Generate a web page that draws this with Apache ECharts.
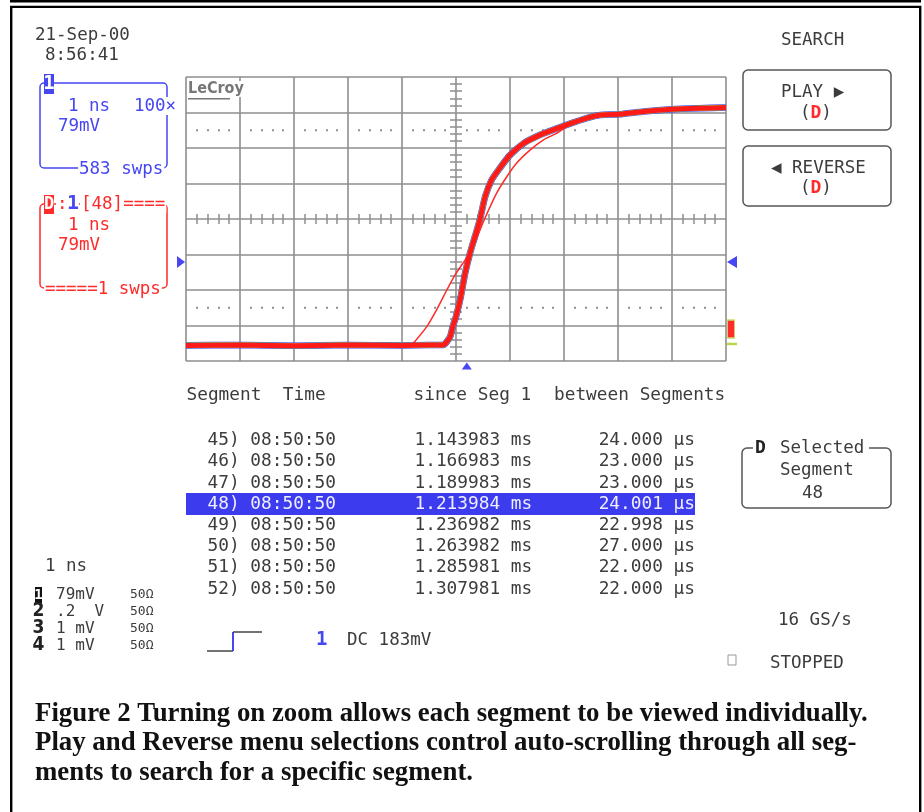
<!DOCTYPE html>
<html>
<head>
<meta charset="utf-8">
<script src="https://cdn.jsdelivr.net/npm/echarts@6/dist/echarts.min.js"></script>
<style>
html, body { margin: 0; padding: 0; background: #fff; }
#chart { width: 924px; height: 812px; }
</style>
</head>
<body>
<div id="chart"></div>
<script>
// trace values, x in divisions from centre, y in divisions from centre
const mainX = [-5, -4, -3, -2, -1, -0.5, -0.24, -0.11, -0.06, 0.0, 0.08, 0.17, 0.26, 0.35, 0.44, 0.54, 0.66, 0.81, 1.0, 1.25, 1.56, 1.8, 2.05, 2.42, 2.67, 3.02, 3.48, 4.0, 4.5, 5]
const mainY = [-3.56, -3.55, -3.57, -3.55, -3.56, -3.55, -3.55, -3.32, -3.03, -2.75, -2.25, -1.52, -0.96, -0.5, -0.03, 0.63, 1.1, 1.43, 1.8, 2.13, 2.37, 2.51, 2.65, 2.84, 2.93, 2.95, 3.03, 3.09, 3.12, 3.14]
const thinX = [-0.79, -0.54, -0.36, -0.17, -0.02, 0.17, 0.29, 0.51, 0.75, 0.94, 1.12, 1.37, 1.62, 1.86, 2.05]
const thinY = [-3.5, -3.03, -2.56, -2.0, -1.58, -1.15, -0.87, -0.07, 0.72, 1.19, 1.57, 1.94, 2.23, 2.41, 2.6]
const trigLevel = -1.21
const trigPos = 0.2

// segment table
const segNums = ["45", "46", "47", "48", "49", "50", "51", "52"]
const segTimes = ["08:50:50", "08:50:50", "08:50:50", "08:50:50", "08:50:50", "08:50:50", "08:50:50", "08:50:50"]
const sinceSeg1 = ["1.143983 ms", "1.166983 ms", "1.189983 ms", "1.213984 ms", "1.236982 ms", "1.263982 ms", "1.285981 ms", "1.307981 ms"]
const betweenSeg = ["24.000 μs", "23.000 μs", "23.000 μs", "24.001 μs", "22.998 μs", "27.000 μs", "22.000 μs", "22.000 μs"]
const selectedSeg = "48"

// channel list
const chNames = ["1", "2", "3", "4"]
const chScales = ["79mV", ".2  V", "1 mV", "1 mV"]
const chImp = ["50Ω", "50Ω", "50Ω", "50Ω"]

const caption = [
    "Figure 2 Turning on zoom allows each segment to be viewed individually.",
    "Play and Reverse menu selections control auto-scrolling through all seg-",
    "ments to search for a specific segment.",
]

const mono = '"DejaVu Sans Mono", monospace'
const gray = "#3c3c3c"
const blue = "#4646f2"
const red = "#ff2a2a"
const gridColor = "#8e8e8e"

function txt(x, y, text, size, color, extra) {
    return {
        type: "text",
        x: x,
        y: y,
        z: 100,
        style: Object.assign(
            { text: text, font: size + "px " + mono, fill: color, align: "left", verticalAlign: "middle" },
            extra || {}
        ),
    }
}

function box(x, y, w, h, r, stroke, lw) {
    return {
        type: "rect",
        z: 90,
        shape: { x: x, y: y, width: w, height: h, r: r },
        style: { fill: "none", stroke: stroke, lineWidth: lw },
    }
}

function fillRect(x, y, w, h, color, z) {
    return { type: "rect", z: z || 95, shape: { x: x, y: y, width: w, height: h }, style: { fill: color } }
}

function line(points, color, lw) {
    return { type: "polyline", z: 95, shape: { points: points }, style: { stroke: color, lineWidth: lw, fill: "none" } }
}

const whiteBg = { backgroundColor: "#fff", padding: [0, 1] }

const graphics = [
    // page frame
    fillRect(10, 0, 911, 2.5, "#000"),
    box(11.2, 6.9, 909, 830, 0, "#000", 2.4),

    txt(35, 35, "21-Sep-00", 17.5, gray),
    txt(45, 55, "8:56:41", 17.5, gray),

    // channel 1 box
    box(40, 83, 127, 85, 4, blue, 1.5),
    fillRect(44, 74, 10, 20, blue),
    txt(49, 84.5, "1", 19, "#fff", { font: "bold 19px " + mono, align: "center" }),
    txt(68, 106, "1 ns", 17.5, blue),
    txt(133, 106, "100×", 17.5, blue, whiteBg),
    txt(58, 126, "79mV", 17.5, blue),
    txt(78, 169, "583 swps", 17.5, blue, whiteBg),

    // trace D box
    box(40, 204, 127, 84, 4, red, 1.5),
    fillRect(44, 195, 10, 19, red),
    txt(49, 204.5, "D", 17, "#fff", { font: "bold 17px " + mono, align: "center" }),
    txt(56, 204, ":", 17.5, red, whiteBg),
    txt(67, 204, "1", 20, blue, { font: "bold 20px " + mono, backgroundColor: "#fff" }),
    txt(80, 204, "[48]====", 17.5, red, whiteBg),
    txt(68, 225, "1 ns", 17.5, red),
    txt(58, 245, "79mV", 17.5, red),
    txt(44, 289, "=====1 swps", 17.5, red, whiteBg),

    // LeCroy logo
    txt(188, 89, "LeCroy", 16, "#777", { font: "bold 16px 'DejaVu Sans Condensed', sans-serif", backgroundColor: "#fff" }),
    fillRect(188, 98, 42, 1.6, "#777"),

    // right menu
    txt(781, 40, "SEARCH", 17.5, gray),
    box(743, 70, 148, 60, 5, "#555", 1.5),
    txt(781, 92, "PLAY ▶", 17.5, gray),
    txt(800, 113, "({d|D})", 17.5, gray, { rich: { d: { fill: red, font: "bold 18px " + mono } } }),
    box(743, 146, 148, 60, 5, "#555", 1.5),
    txt(771, 168, "◀ REVERSE", 17.5, gray),
    txt(800, 188, "({d|D})", 17.5, gray, { rich: { d: { fill: red, font: "bold 18px " + mono } } }),

    box(742, 448, 149, 60, 5, "#555", 1.5),
    fillRect(753, 442, 116, 10, "#fff", 96),
    txt(755, 448, "D", 18, "#222", { font: "bold 18px " + mono }),
    txt(780, 448, "Selected", 17.5, gray),
    txt(780, 470, "Segment", 17.5, gray),
    txt(802, 493, selectedSeg, 17.5, gray),

    txt(778, 620, "16 GS/s", 17.5, gray),
    box(728, 655, 8, 10, 0, "#999", 1),
    txt(770, 663, "STOPPED", 17.5, gray),

    // bottom left
    txt(45, 566, "1 ns", 17.5, gray),

    // trigger icon
    line([[207, 651], [233, 651]], "#444", 1.5),
    line([[233, 651], [233, 632]], blue, 2),
    line([[233, 632], [262, 632]], "#444", 1.5),
    txt(316, 640, "1", 19, blue, { font: "bold 19px " + mono }),
    txt(347, 640, "DC 183mV", 17.5, gray),

    // table header
    txt(186.5, 395, "Segment  Time", 17.8, gray),
    txt(413.5, 395, "since Seg 1", 17.8, gray),
    txt(554, 395, "between Segments", 17.8, gray),
]

// channel rows
const chRowY = [595, 611.5, 628.5, 645.5]
chNames.forEach((name, i) => {
    const y = chRowY[i]
    if (i === 0) {
        graphics.push(fillRect(35, y - 8, 7, 16, "#111"))
        graphics.push(txt(38.5, y, name, 14, "#fff", { font: "bold 14px " + mono, align: "center" }))
    } else {
        graphics.push(txt(38.5, y, name, 19, "#222", { font: "bold 19px 'DejaVu Sans Condensed', sans-serif", align: "center" }))
    }
    graphics.push(txt(56, y, chScales[i], 16, gray))
    graphics.push(txt(130, y, chImp[i], 13, gray))
})

// segment rows
segNums.forEach((seg, i) => {
    const y = 440.5 + i * 21.2
    const sel = seg === selectedSeg
    const color = sel ? "#eeeeff" : gray
    if (sel) graphics.push(fillRect(186, y - 11, 509, 22, "#3c3cee", 94))
    graphics.push(txt(207.5, y, seg + ") " + segTimes[i], 17.8, color))
    graphics.push(txt(414.5, y, sinceSeg1[i], 17.8, color))
    graphics.push(txt(695, y, betweenSeg[i], 17.8, color, { align: "right" }))
})

// caption
caption.forEach((s, i) => {
    graphics.push({
        type: "text",
        x: 35,
        y: 714 + i * 29.5,
        scaleX: 0.993,
        z: 100,
        style: { text: s, font: "bold 27px 'Liberation Serif', serif", fill: "#111", align: "left", verticalAlign: "middle" },
    })
})

function stripAxis(gridIndex, min, max, width) {
    return {
        type: "value",
        gridIndex: gridIndex,
        min: min,
        max: max,
        interval: 1,
        axisLine: { show: false },
        axisTick: { show: false },
        axisLabel: { show: false },
        splitLine: { show: false },
        minorTick: { splitNumber: 5 },
        minorSplitLine: { show: true, lineStyle: { color: gridColor, width: width } },
    }
}

function hidden(gridIndex) {
    return { type: "value", gridIndex: gridIndex, min: 0, max: 1, show: false }
}

const mainAxisBase = {
    type: "value",
    gridIndex: 0,
    interval: 1,
    axisLine: { show: false },
    axisTick: { show: false },
    axisLabel: { show: false },
    splitLine: { show: true, lineStyle: { color: gridColor, width: 1.6 } },
}

const mainData = mainX.map((x, i) => [x, mainY[i]])
const thinData = thinX.map((x, i) => [x, thinY[i]])

const option = {
    animation: false,
    graphic: graphics,
    grid: [
        { left: 186, top: 77, width: 540, height: 284 },
        { left: 186, top: 214, width: 540, height: 10 },
        { left: 450, top: 77, width: 12, height: 284 },
        { left: 186, top: 129.3, width: 540, height: 2 },
        { left: 186, top: 306.8, width: 540, height: 2 },
    ],
    xAxis: [
        Object.assign({}, mainAxisBase, { min: -5, max: 5 }),
        stripAxis(1, -5, 5, 1.5),
        hidden(2),
        stripAxis(3, -5, 5, 2),
        stripAxis(4, -5, 5, 2),
    ],
    yAxis: [
        Object.assign({}, mainAxisBase, { min: -4, max: 4 }),
        hidden(1),
        stripAxis(2, -4, 4, 1.5),
        hidden(3),
        hidden(4),
    ],
    series: [
        {
            type: "line",
            data: mainData,
            showSymbol: false,
            smooth: 0.2,
            lineStyle: { color: "#3b3bff", width: 6.6 },
            z: 3,
        },
        {
            type: "line",
            data: mainData,
            showSymbol: false,
            smooth: 0.2,
            lineStyle: { color: "#8fd64a", width: 5.6 },
            z: 4,
        },
        {
            type: "line",
            data: thinData,
            showSymbol: false,
            smooth: 0.2,
            lineStyle: { color: red, width: 1.5 },
            z: 5,
        },
        {
            type: "line",
            data: mainData,
            showSymbol: false,
            smooth: 0.2,
            lineStyle: { color: "#ff1a1a", width: 5 },
            z: 6,
            markPoint: {
                label: { show: false },
                data: [
                    { coord: [5, trigLevel], symbol: "triangle", symbolSize: [12, 10], symbolRotate: 90, symbolOffset: [6, 0], itemStyle: { color: blue } },
                    { coord: [-5, trigLevel], symbol: "triangle", symbolSize: [12, 8], symbolRotate: -90, symbolOffset: [-5, 0], itemStyle: { color: blue } },
                    { coord: [trigPos, -4], symbol: "triangle", symbolSize: [10, 7], symbolOffset: [0, 5], itemStyle: { color: blue } },
                    { coord: [5, -3.1], symbol: "rect", symbolSize: [7, 18], symbolOffset: [5, 0], itemStyle: { color: red, borderColor: "#c8e060", borderWidth: 1 } },
                    { coord: [5, -3.52], symbol: "rect", symbolSize: [10, 2.5], symbolOffset: [6, 0], itemStyle: { color: "#b8d84a" } },
                ],
            },
        },
    ],
}

const chart = echarts.init(document.getElementById("chart"))
chart.setOption(option)
</script>
</body>
</html>
